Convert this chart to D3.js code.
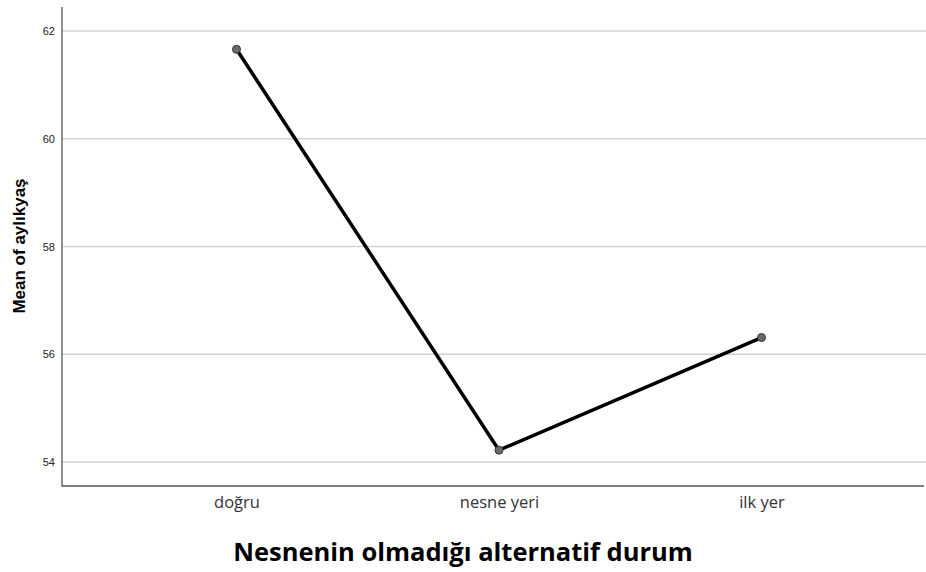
<!DOCTYPE html>
<html><head><meta charset="utf-8">
<script src="https://cdn.jsdelivr.net/npm/d3@7/dist/d3.min.js"></script>
<style>body{margin:0;background:#fff}</style>
</head><body>
<svg id="c" width="926" height="572"></svg>
<script>
const categories = ["doğru", "nesne yeri", "ilk yer"];
const means = [61.66, 54.22, 56.31];
const yTicks = [54, 56, 58, 60, 62];
const xTitle = "Nesnenin olmadığı alternatif durum";
const yTitle = "Mean of aylıkyaş";

const svg = d3.select("#c");
const L = 62, R = 924, T = 7, B = 486;

const x = d3.scalePoint().domain(categories).range([L + 6, R + 6]).padding(0.642);
const y = d3.scaleLinear().domain([53.555, 62.445]).range([B, T]);

// gridlines
svg.append("g").selectAll("line").data(yTicks).join("line")
  .attr("x1", L).attr("x2", 926)
  .attr("y1", d => y(d)).attr("y2", d => y(d))
  .attr("stroke", "#d2d2d2").attr("stroke-width", 1.5);

// y axis
const ya = svg.append("g").attr("transform", `translate(${L},0)`)
  .call(d3.axisLeft(y).tickValues(yTicks).tickSize(0).tickPadding(7).tickFormat(d3.format("d")));
ya.select(".domain").remove();
ya.selectAll("text").attr("font-family", "Liberation Sans, Arial, sans-serif").attr("font-size", 11).attr("fill", "#222");

// x axis
const xa = svg.append("g").attr("transform", `translate(0,${B})`)
  .call(d3.axisBottom(x).tickSize(0).tickPadding(10));
xa.select(".domain").remove();
xa.selectAll("text").attr("font-family", "Open Sans, sans-serif").attr("font-size", 16.5).attr("fill", "#333");

// axis lines
svg.append("line").attr("x1", L).attr("x2", L).attr("y1", T).attr("y2", B + 0.5)
  .attr("stroke", "#555").attr("stroke-width", 1.3);
svg.append("line").attr("x1", L).attr("x2", R).attr("y1", B).attr("y2", B)
  .attr("stroke", "#555").attr("stroke-width", 1.3);

// line
const data = categories.map((c, i) => ({c, v: means[i]}));
svg.append("path").datum(data)
  .attr("d", d3.line().x(d => x(d.c)).y(d => y(d.v)))
  .attr("fill", "none").attr("stroke", "#000").attr("stroke-width", 3.5).attr("stroke-linejoin", "round");

svg.append("g").selectAll("circle").data(data).join("circle")
  .attr("cx", d => x(d.c)).attr("cy", d => y(d.v)).attr("r", 4)
  .attr("fill", "#6a6a6a").attr("stroke", "#333").attr("stroke-width", 1);

// titles
svg.append("text").attr("x", 463).attr("y", 561).attr("text-anchor", "middle")
  .attr("font-family", "Open Sans, sans-serif").attr("font-weight", "bold").attr("font-size", 25.5)
  .attr("fill", "#000").text(xTitle);
svg.append("text").attr("transform", "translate(25,246) rotate(-90)").attr("text-anchor", "middle")
  .attr("font-family", "Liberation Sans, Arial, sans-serif").attr("font-weight", "bold").attr("font-size", 17)
  .attr("fill", "#000").text(yTitle);
</script>
</body></html>
